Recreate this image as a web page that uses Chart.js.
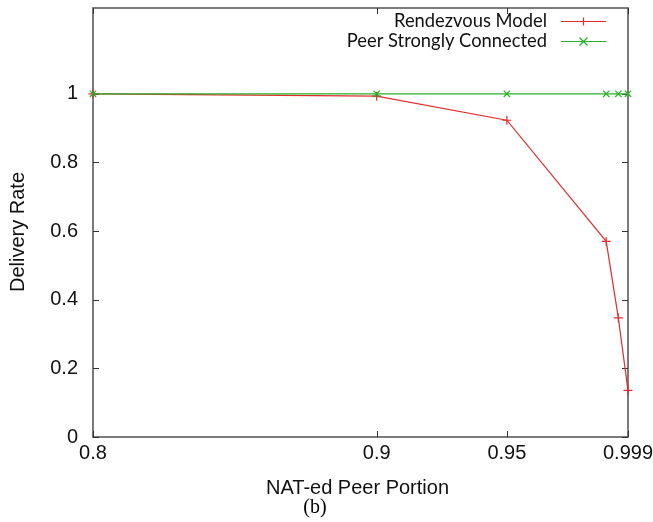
<!DOCTYPE html>
<html><head><meta charset="utf-8">
<script src="https://cdn.jsdelivr.net/npm/chart.js@4.4.1/dist/chart.umd.min.js"></script>
<style>html,body{margin:0;padding:0;background:#fff}canvas{display:block}</style>
</head><body>
<canvas id="c" width="653" height="522"></canvas>
<script>
const natPortion = [0.8, 0.9, 0.95, 0.99, 0.995, 0.999];
const rendezvousRate = [1.0, 0.993, 0.923, 0.570, 0.347, 0.136];
const stronglyRate = [1, 1, 1, 1, 1, 1];
const xTickValues = [0.8, 0.9, 0.95, 0.999];
const yTickValues = [0, 0.2, 0.4, 0.6, 0.8, 1];
const seriesNames = ['Rendezvous Model', 'Peer Strongly Connected'];
const xTitleText = 'NAT-ed Peer Portion';
const yTitleText = 'Delivery Rate';
const captionText = '(b)';

const RED = 'rgb(224,45,45)';
const GREEN = 'rgb(40,175,40)';
const FRAME = '#5a5a5a';
const SANS = '"Liberation Sans", Arial, sans-serif';

const toPts = (xs, ys) => xs.map((x, i) => ({x, y: ys[i]}));

const framePlugin = {
  id: 'frame',
  beforeDatasetsDraw(chart) {
    const {ctx, chartArea: a, scales: {x, y}} = chart;
    ctx.save();
    ctx.strokeStyle = FRAME;
    ctx.lineWidth = 1.6;
    ctx.strokeRect(a.left, a.top, a.right - a.left, a.bottom - a.top);
    ctx.strokeStyle = '#333';
    ctx.lineWidth = 1;
    const tl = 6;
    yTickValues.forEach(v => {
      const py = Math.round(y.getPixelForValue(v)) + 0.5;
      ctx.beginPath();
      ctx.moveTo(a.left, py); ctx.lineTo(a.left + tl, py);
      ctx.moveTo(a.right, py); ctx.lineTo(a.right - tl, py);
      ctx.stroke();
    });
    xTickValues.forEach(v => {
      const px = Math.round(x.getPixelForValue(v)) + 0.5;
      ctx.beginPath();
      ctx.moveTo(px, a.bottom); ctx.lineTo(px, a.bottom - tl);
      ctx.moveTo(px, a.top); ctx.lineTo(px, a.top + tl);
      ctx.stroke();
    });
    ctx.restore();
  },
  afterDraw(chart) {
    const {ctx, chartArea: a} = chart;
    ctx.save();
    // legend
    const items = [
      {name: seriesNames[0], color: RED, style: 'plus', y: 21},
      {name: seriesNames[1], color: GREEN, style: 'x', y: 41}
    ];
    ctx.font = '19px Lato';
    const w = ctx.measureText(seriesNames[0]).width;
    const fs = 19 * 153 / w;
    ctx.font = fs.toFixed(2) + 'px Lato';
    ctx.textAlign = 'right';
    ctx.textBaseline = 'middle';
    items.forEach(it => {
      ctx.fillStyle = '#111';
      ctx.fillText(it.name, 547, it.y);
      ctx.strokeStyle = it.color;
      ctx.lineWidth = 1.2;
      ctx.beginPath();
      ctx.moveTo(561, it.y + 0.5); ctx.lineTo(606, it.y + 0.5);
      ctx.stroke();
      const cx = 583.5, cy = it.y + 0.5, r = 4;
      ctx.beginPath();
      if (it.style === 'plus') {
        ctx.moveTo(cx, cy - r); ctx.lineTo(cx, cy + r);
      } else {
        ctx.moveTo(cx - r, cy - r); ctx.lineTo(cx + r, cy + r);
        ctx.moveTo(cx - r, cy + r); ctx.lineTo(cx + r, cy - r);
      }
      ctx.stroke();
    });
    // axis titles
    ctx.fillStyle = '#111';
    ctx.font = '20px ' + SANS;
    ctx.textAlign = 'center';
    ctx.textBaseline = 'middle';
    ctx.fillText(xTitleText, (a.left + a.right) / 2 - 3, 488);
    ctx.save();
    ctx.translate(18, 232);
    ctx.rotate(-Math.PI / 2);
    ctx.fillText(yTitleText, 0, 0);
    ctx.restore();
    // caption
    ctx.font = '20px "Liberation Serif", serif';
    ctx.fillStyle = '#000';
    ctx.fillText(captionText, 315, 508);
    ctx.restore();
  }
};

new Chart(document.getElementById('c'), {
  type: 'line',
  data: {
    datasets: [
      {
        label: seriesNames[0],
        data: toPts(natPortion, rendezvousRate),
        borderColor: RED, backgroundColor: RED,
        borderWidth: 1.2, pointStyle: 'cross', pointRadius: 4.5,
        pointBorderWidth: 1.2, pointBorderColor: RED,
        tension: 0, clip: false, order: 2
      },
      {
        label: seriesNames[1],
        data: toPts(natPortion, stronglyRate),
        borderColor: GREEN, backgroundColor: GREEN,
        borderWidth: 1.2, pointStyle: 'crossRot', pointRadius: 4.5,
        pointBorderWidth: 1.2, pointBorderColor: GREEN,
        tension: 0, clip: false, order: 1
      }
    ]
  },
  options: {
    responsive: false,
    animation: false,
    layout: {padding: {left: 0, right: 25, top: 8, bottom: 0}},
    plugins: {legend: {display: false}, tooltip: {enabled: false}},
    scales: {
      x: {
        type: 'logarithmic',
        min: 0.8, max: 0.999,
        grid: {display: false, drawTicks: false},
        border: {display: false},
        afterBuildTicks: s => { s.ticks = xTickValues.map(v => ({value: v})); },
        afterFit: s => { s.height = 85; s.paddingLeft = 0; s.paddingRight = 0; },
        ticks: {
          autoSkip: false, maxRotation: 0, minRotation: 0, padding: 4,
          color: '#111', font: {family: SANS, size: 20},
          callback: v => String(v)
        },
        title: {display: false}
      },
      y: {
        type: 'linear',
        min: 0, max: 1.25,
        grid: {display: false, drawTicks: false},
        border: {display: false},
        afterBuildTicks: s => { s.ticks = yTickValues.map(v => ({value: v})); },
        afterFit: s => { s.width = 93; s.paddingTop = 0; s.paddingBottom = 0; },
        ticks: {
          padding: 15, color: '#111',
          font: {family: SANS, size: 20},
          callback: v => String(v)
        },
        title: {display: false}
      }
    }
  },
  plugins: [framePlugin]
});
</script>
</body></html>
